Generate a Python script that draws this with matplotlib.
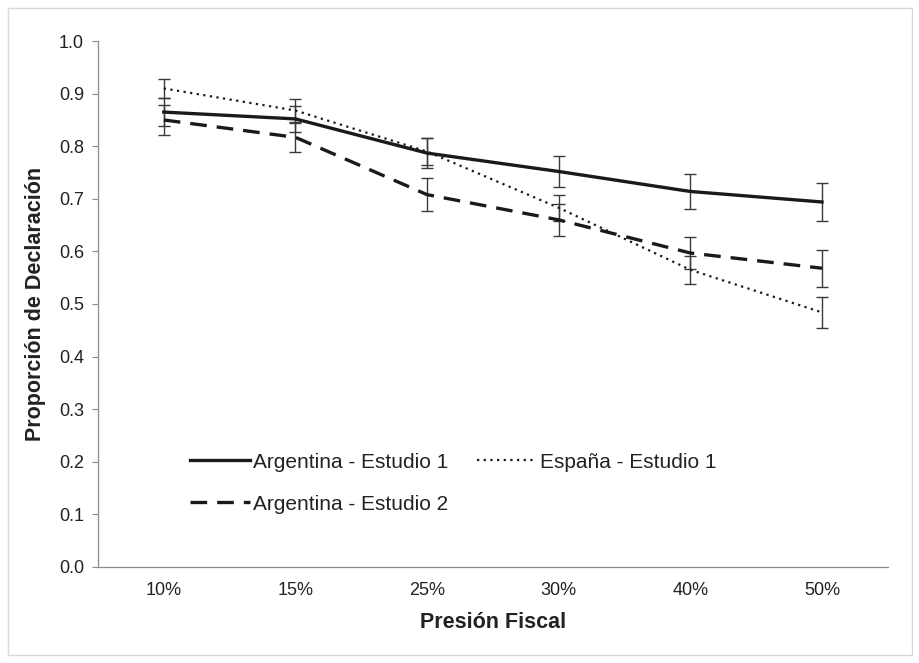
import matplotlib
matplotlib.use("Agg")
import matplotlib.pyplot as plt
from matplotlib.patches import Rectangle

plt.rcParams["font.family"] = ["Liberation Sans", "DejaVu Sans"]

# data
categorias = ["10%", "15%", "25%", "30%", "40%", "50%"]
arg1 = [0.865, 0.852, 0.787, 0.752, 0.714, 0.694]
arg1_err = [0.027, 0.025, 0.028, 0.030, 0.033, 0.037]
esp1 = [0.910, 0.868, 0.790, 0.683, 0.565, 0.484]
esp1_err = [0.018, 0.022, 0.025, 0.025, 0.027, 0.029]
arg2 = [0.850, 0.817, 0.708, 0.660, 0.597, 0.568]
arg2_err = [0.028, 0.028, 0.031, 0.030, 0.031, 0.035]

fig = plt.figure(figsize=(9.2, 6.63), dpi=100)
ax = fig.add_axes([0.1065, 0.145, 0.8585, 0.793])

x = range(len(categorias))
err_kw = dict(ecolor="#3a3a3a", elinewidth=1.0, capsize=4, capthick=1.0)

l1 = ax.errorbar(x, arg1, yerr=arg1_err, color="#1a1a1a", lw=2.4, ls="-",
                 label="Argentina - Estudio 1", **err_kw)
l2 = ax.errorbar(x, arg2, yerr=arg2_err, color="#1a1a1a", lw=2.4, ls=(0, (5, 3)),
                 label="Argentina - Estudio 2", **err_kw)
l3 = ax.errorbar(x, esp1, yerr=esp1_err, color="#1a1a1a", lw=1.6, ls=(0, (1, 2)),
                 label="España - Estudio 1", **err_kw)

ax.set_xlim(-0.5, len(categorias) - 0.5)
ax.set_ylim(0, 1.0)
ax.set_yticks([i / 10 for i in range(11)])
ax.set_yticklabels([f"{i / 10:.1f}" for i in range(11)])
ax.set_xticks(list(x))
ax.set_xticklabels(categorias)

for s in ["top", "right"]:
    ax.spines[s].set_visible(False)
for s in ["left", "bottom"]:
    ax.spines[s].set_color("#8c8c8c")
    ax.spines[s].set_linewidth(0.9)
ax.tick_params(axis="y", length=4, color="#8c8c8c", labelsize=13, pad=6,
               labelcolor="#222222")
ax.tick_params(axis="x", length=0, labelsize=13, pad=11, labelcolor="#222222")

ax.set_xlabel("Presión Fiscal", fontsize=15.5, fontweight="bold", labelpad=9,
              color="#222222")
ax.set_ylabel("Proporción de Declaración", fontsize=15.5, fontweight="bold",
              labelpad=9, color="#222222")

handles = [l1[0], l2[0], l3[0]]
labels = ["Argentina - Estudio 1", "Argentina - Estudio 2", "España - Estudio 1"]
leg = ax.legend(handles, labels, ncol=2, frameon=False, fontsize=15,
                loc="upper left", bbox_to_anchor=(0.116, 0.217),
                borderpad=0, borderaxespad=0,
                handlelength=2.9, handletextpad=0.12, columnspacing=1.4,
                labelspacing=1.1)
for t in leg.get_texts():
    t.set_color("#222222")

fig.add_artist(Rectangle((0.009, 0.012), 0.982, 0.976, transform=fig.transFigure,
                         fill=False, edgecolor="#d9d9d9", lw=1.0))

fig.savefig("out.png", dpi=100)
